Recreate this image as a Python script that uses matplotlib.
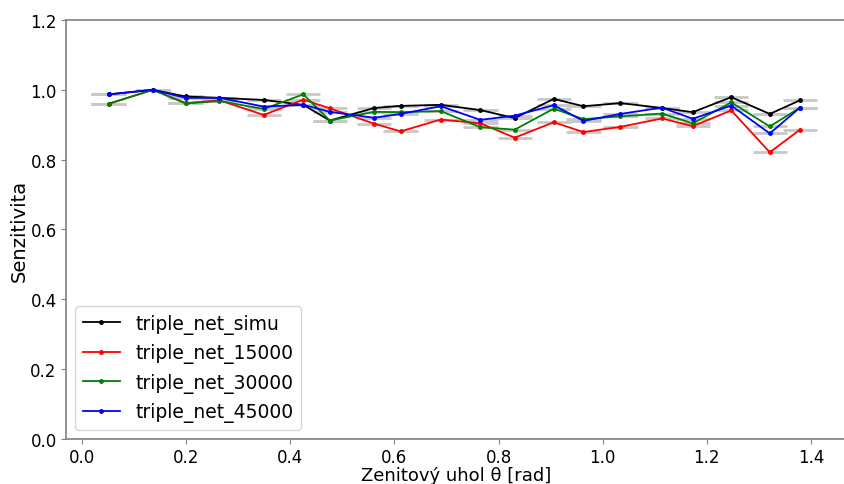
import numpy as np
import matplotlib
matplotlib.use("Agg")
import matplotlib.pyplot as plt

# bin centres (zenith angle, rad)
theta = [0.051, 0.136, 0.199, 0.264, 0.349, 0.425, 0.476, 0.561, 0.612, 0.689,
         0.765, 0.831, 0.906, 0.963, 1.034, 1.114, 1.173, 1.247, 1.321, 1.379]
theta_err = 0.033

simu = [0.987, 1.000, 0.981, 0.977, 0.971, 0.957, 0.912, 0.948, 0.954, 0.957,
        0.942, 0.919, 0.974, 0.953, 0.962, 0.948, 0.936, 0.979, 0.931, 0.970]
net_15000 = [0.960, 1.000, 0.962, 0.970, 0.928, 0.972, 0.947, 0.903, 0.881, 0.915,
             0.904, 0.863, 0.907, 0.879, 0.894, 0.918, 0.896, 0.941, 0.821, 0.886]
net_30000 = [0.960, 1.000, 0.961, 0.968, 0.945, 0.987, 0.912, 0.937, 0.936, 0.939,
             0.893, 0.886, 0.946, 0.916, 0.924, 0.932, 0.904, 0.964, 0.895, 0.949]
net_45000 = [0.987, 1.000, 0.977, 0.977, 0.952, 0.957, 0.937, 0.920, 0.931, 0.953,
             0.914, 0.926, 0.956, 0.911, 0.931, 0.949, 0.917, 0.955, 0.875, 0.949]

series = [("triple_net_simu", simu, "k"),
          ("triple_net_15000", net_15000, "r"),
          ("triple_net_30000", net_30000, "g"),
          ("triple_net_45000", net_45000, "b")]

fig = plt.figure(figsize=(8.45, 4.85), dpi=100)
ax = fig.add_axes([0.0778, 0.0928, 0.9234, 0.8639])

# gray bin-width bars first, then the lines on top
for name, vals, col in series:
    ax.errorbar(theta, vals, xerr=theta_err, fmt="none", ecolor="#c8c8c8",
                elinewidth=2, zorder=1)
for name, vals, col in series:
    ax.plot(theta, vals, ".-", color=col, lw=1.3, markersize=5, label=name,
            zorder=2)

ax.set_xlim(-0.0313, 1.4674)
ax.set_ylim(0, 1.2)
ax.set_xticks(np.arange(0, 1.41, 0.2))
ax.set_yticks(np.arange(0, 1.21, 0.2))
ax.tick_params(labelsize=12, color="gray", pad=3)
for sp in ax.spines.values():
    sp.set_color("gray")
    sp.set_linewidth(1.2)

ax.set_xlabel("Zenitový uhol θ [rad]", fontsize=13, labelpad=0)
ax.set_ylabel("Senzitivita", fontsize=14, labelpad=1)
ax.legend(loc="lower left", fontsize=13.5)

fig.savefig("out.png", dpi=100)
